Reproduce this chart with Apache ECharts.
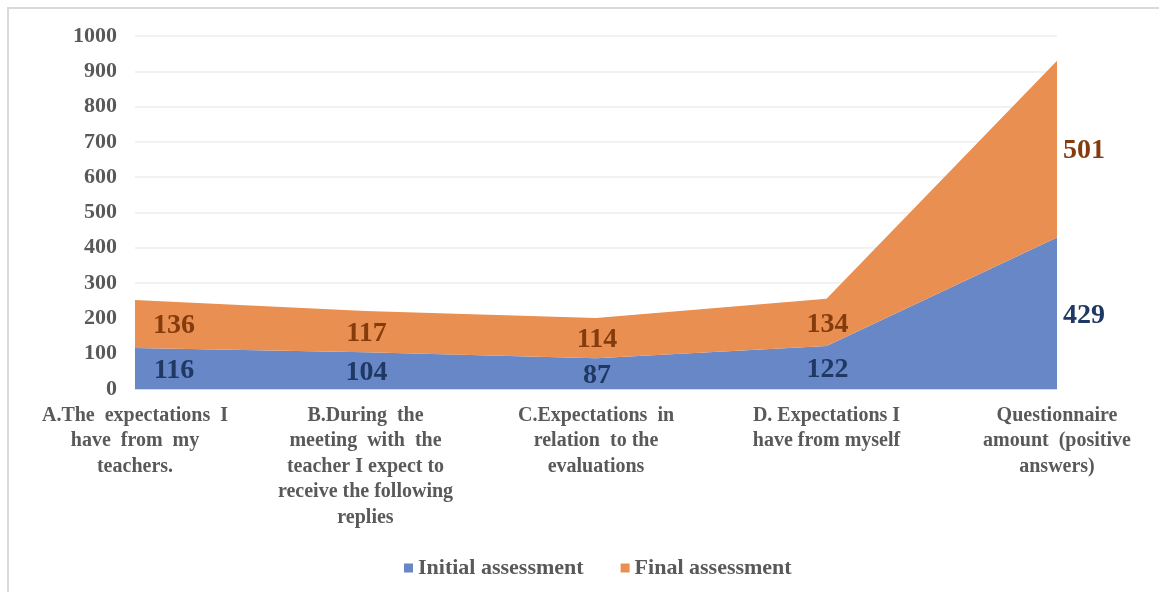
<!DOCTYPE html>
<html>
<head>
<meta charset="utf-8">
<script src="https://cdn.jsdelivr.net/npm/echarts@6/dist/echarts.min.js"></script>
<style>
  html, body { margin: 0; padding: 0; background: #ffffff; }
  #chart { position: absolute; left: 0; top: 0; width: 1159px; height: 592px; }
  #frame { position: absolute; left: 7px; top: 7px; width: 1200px; height: 640px;
           border-left: 2px solid #d9d9d9; border-top: 2px solid #d9d9d9; pointer-events: none; }
</style>
</head>
<body>
<div id="chart"></div>
<div id="frame"></div>
<script>
// Survey categories (axis labels broken into lines)
const categories = [
  'A.The  expectations  I\nhave  from  my\nteachers.',
  'B.During  the\nmeeting  with  the\nteacher I expect to\nreceive the following\nreplies',
  'C.Expectations  in\nrelation  to the\nevaluations',
  'D. Expectations I\nhave from myself',
  'Questionnaire\namount  (positive\nanswers)'
];
const initialAssessment = [116, 104, 87, 122, 429];
const finalAssessment = [136, 117, 114, 134, 501];
const yTicks = { min: 0, max: 1000, interval: 100 };

const FONT = '"Liberation Serif", "Times New Roman", serif';
const BLUE = '#6787c6';
const ORANGE = '#e98f51';

// Label anchor points: middle of each stacked band
const initialMid = initialAssessment.map(v => v / 2);
const finalMid = finalAssessment.map((v, i) => initialAssessment[i] + v / 2);

function labelItems(mids, values) {
  const last = values.length - 1;
  return mids.map((m, i) => ({
    value: m,
    label: {
      formatter: String(values[i]),
      offset: i === 0 ? [39, 2] : (i === last ? [27, 2] : [1, 2])
    }
  }));
}

function labelSeries(name, items, color) {
  return {
    name: name,
    type: 'scatter',
    data: items,
    symbolSize: 1,
    itemStyle: { color: color, opacity: 0 },
    silent: true,
    z: 5,
    label: {
      show: true,
      position: 'inside',
      align: 'center',
      verticalAlign: 'middle',
      fontFamily: FONT,
      fontWeight: 'bold',
      fontSize: 28,
      color: color,
      opacity: 1,
      textBorderWidth: 0
    }
  };
}

const chart = echarts.init(document.getElementById('chart'));
chart.setOption({
  animation: false,
  backgroundColor: 'transparent',
  grid: { left: 135, right: 102, top: 36, bottom: 203 },
  legend: {
    data: ['Initial assessment', 'Final assessment'],
    top: 552,
    left: 399,
    icon: 'rect',
    itemWidth: 9,
    itemHeight: 9,
    itemGap: 37,
    textStyle: { fontFamily: FONT, fontWeight: 'bold', fontSize: 22, color: '#595959' }
  },
  xAxis: {
    type: 'category',
    data: categories,
    boundaryGap: false,
    axisLine: { show: true, lineStyle: { color: '#d9d9d9', width: 1 } },
    axisTick: { show: false },
    axisLabel: {
      interval: 0,
      margin: 14,
      fontFamily: FONT,
      fontWeight: 'bold',
      fontSize: 20,
      lineHeight: 25.5,
      color: '#595959'
    },
    splitLine: { show: false }
  },
  yAxis: {
    type: 'value',
    min: yTicks.min,
    max: yTicks.max,
    interval: yTicks.interval,
    axisLine: { show: false },
    axisTick: { show: false },
    axisLabel: {
      margin: 18,
      fontFamily: FONT,
      fontWeight: 'bold',
      fontSize: 22,
      color: '#595959',
      formatter: v => String(v)
    },
    splitLine: { lineStyle: { color: '#eeeeee', width: 1.5 } }
  },
  series: [
    {
      name: 'Initial assessment',
      type: 'line',
      stack: 'total',
      data: initialAssessment,
      symbol: 'none',
      lineStyle: { width: 0 },
      itemStyle: { color: BLUE },
      areaStyle: { color: BLUE, opacity: 1 },
      z: 2
    },
    {
      name: 'Final assessment',
      type: 'line',
      stack: 'total',
      data: finalAssessment,
      symbol: 'none',
      lineStyle: { width: 0 },
      itemStyle: { color: ORANGE },
      areaStyle: { color: ORANGE, opacity: 1 },
      z: 2
    },
    labelSeries('initial-labels', labelItems(initialMid, initialAssessment), '#1f3864'),
    labelSeries('final-labels', labelItems(finalMid, finalAssessment), '#843c0c')
  ]
});
</script>
</body>
</html>
